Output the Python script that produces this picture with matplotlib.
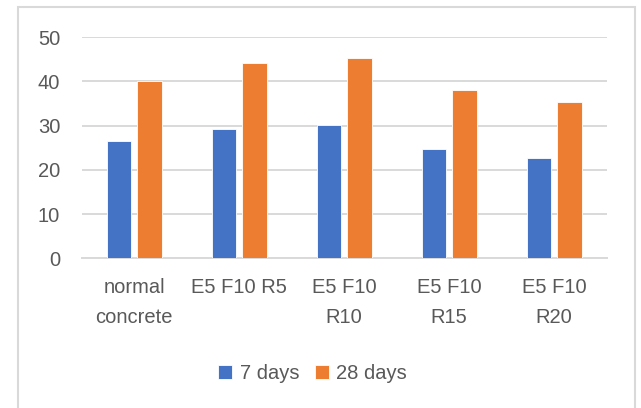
import numpy as np
import matplotlib.pyplot as plt
from matplotlib.patches import Rectangle
from matplotlib import font_manager

mixes = ['normal\nconcrete', 'E5 F10 R5', 'E5 F10\nR10', 'E5 F10\nR15', 'E5 F10\nR20']
days7 = [26.6, 29.2, 30.2, 24.8, 22.6]
days28 = [40.1, 44.1, 45.3, 38.1, 35.4]

names = {f.name for f in font_manager.fontManager.ttflist}
font = 'Liberation Sans Narrow' if 'Liberation Sans Narrow' in names else 'Liberation Sans'
plt.rcParams['font.family'] = [font, 'DejaVu Sans']

blue = '#4472C4'
orange = '#ED7D31'
grey_txt = '#595959'
grid = '#D9D9D9'

fig = plt.figure(figsize=(6.41, 4.08), dpi=100)
ax = fig.add_axes([0.1275, 0.367, 0.819, 0.5416])

x = np.arange(len(mixes))
w = 0.23
ax.bar(x - 0.145, days7, w, color=blue, edgecolor='white', linewidth=0.6, label='7 days', zorder=3)
ax.bar(x + 0.145, days28, w, color=orange, edgecolor='white', linewidth=0.6, label='28 days', zorder=3)

ax.set_xlim(-0.5, len(mixes) - 0.5)
ax.set_ylim(0, 50)
ax.set_yticks(range(0, 51, 10))
ax.yaxis.grid(True, color=grid, linewidth=1.4, zorder=0)
for s in ['top', 'right', 'left']:
    ax.spines[s].set_visible(False)
ax.spines['bottom'].set_color(grid)
ax.spines['bottom'].set_linewidth(1.4)
ax.tick_params(axis='both', length=0, labelsize=14.5, labelcolor=grey_txt)
ax.tick_params(axis='y', pad=15.5)
ax.tick_params(axis='x', pad=14)
ax.set_xticks(x)
ax.set_xticklabels(mixes, linespacing=1.75)

ax.legend(loc='upper center', bbox_to_anchor=(0.44, -0.395), ncol=2, frameon=False,
          fontsize=14.5, labelcolor=grey_txt, handlelength=0.7, handleheight=0.7,
          handletextpad=0.35, columnspacing=0.8)

# chart frame, bottom edge falls outside the image
fig.patches.append(Rectangle((18 / 641, -0.1), 617 / 641, 1.083, transform=fig.transFigure,
                             fill=False, edgecolor=grid, linewidth=1.5))

fig.savefig('out.png', dpi=100)
